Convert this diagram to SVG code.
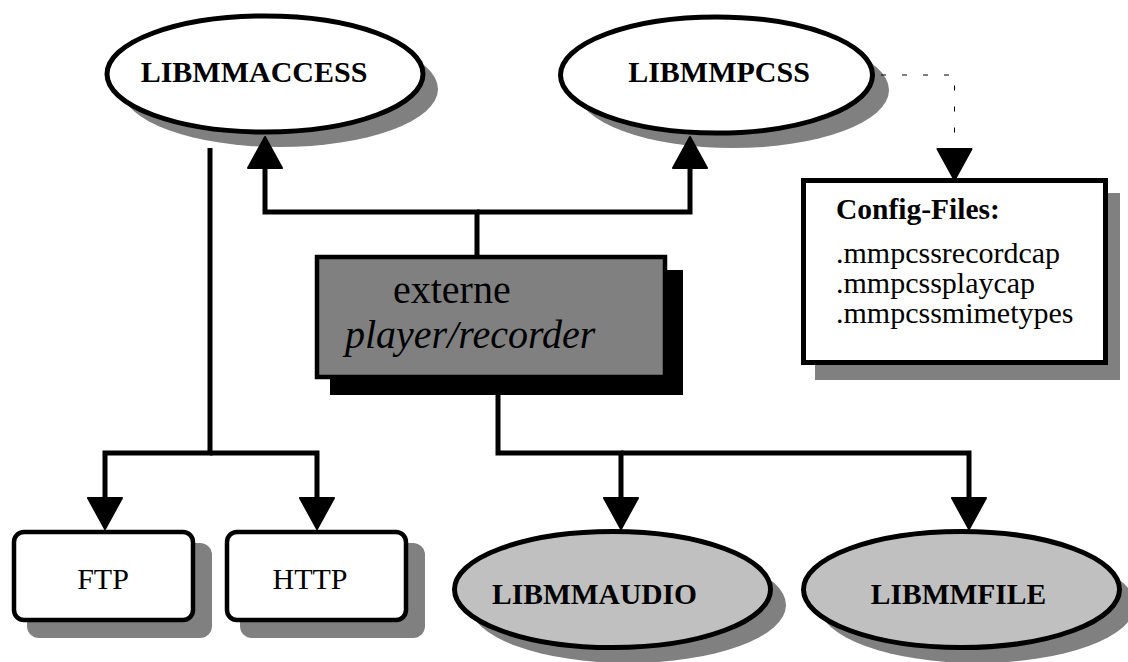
<svg xmlns="http://www.w3.org/2000/svg" width="1128" height="662" viewBox="0 0 1128 662">
  <style>
    .lbl { font-family: "Liberation Serif", "Times New Roman", serif; fill: #000; }
    .bold { font-weight: bold; }
    .shadow { fill: #808080; stroke: none; }
    .lib { fill: #ffffff; stroke: #000; stroke-width: 5; }
    .libgrey { fill: #c0c0c0; stroke: #000; stroke-width: 5; }
    .box { fill: #ffffff; stroke: #000; stroke-width: 4.5; }
    .wire { fill: none; stroke: #000; stroke-width: 5; stroke-linejoin: miter; stroke-linecap: butt; }
    .dash { fill: none; stroke: #000; stroke-width: 1; stroke-dasharray: 5 16; }
  </style>
  <defs>
    <marker id="head" markerUnits="userSpaceOnUse" viewBox="0 0 34 36" markerWidth="34" markerHeight="36" refX="1" refY="18" orient="auto" overflow="visible">
      <path d="M1,1 L32,18 L1,35 Z" fill="#000" stroke="#000" stroke-width="2" stroke-linejoin="round"/>
    </marker>
  </defs>

  <rect width="1128" height="662" fill="#ffffff"/>

  <!-- library and box nodes -->
  <g id="libmmaccess">
    <ellipse class="shadow" cx="280" cy="89" rx="158" ry="58"/>
    <ellipse class="lib" cx="265" cy="74" rx="158" ry="58"/>
    <text class="lbl bold" x="254" y="82" font-size="30" text-anchor="middle">LIBMMACCESS</text>
  </g>

  <g id="libmmpcss">
    <ellipse class="shadow" cx="733" cy="90" rx="156" ry="58"/>
    <ellipse class="lib" cx="716.5" cy="75" rx="156" ry="58"/>
    <text class="lbl bold" x="719" y="82" font-size="30" text-anchor="middle">LIBMMPCSS</text>
  </g>

  <g id="config-files">
    <rect class="shadow" x="815" y="193" width="305" height="187"/>
    <rect x="803.5" y="180.5" width="302" height="182" fill="#ffffff" stroke="#000" stroke-width="5"/>
    <text class="lbl bold" x="836" y="219" font-size="29.5">Config-Files:</text>
    <text class="lbl" x="836" y="263" font-size="30">.mmpcssrecordcap</text>
    <text class="lbl" x="836" y="293" font-size="30">.mmpcssplaycap</text>
    <text class="lbl" x="836" y="323" font-size="30">.mmpcssmimetypes</text>
  </g>

  <g id="player-recorder">
    <rect x="330" y="270" width="353" height="125" fill="#000"/>
    <rect x="317" y="257" width="348" height="120" fill="#808080" stroke="#000" stroke-width="4.5"/>
    <text class="lbl" x="393" y="303" font-size="40">externe</text>
    <text class="lbl" x="345" y="348" font-size="40" font-style="italic">player/recorder</text>
  </g>

  <g id="ftp">
    <rect class="shadow" x="27" y="543" width="185" height="95" rx="12"/>
    <rect class="box" x="14" y="532" width="179" height="88" rx="10"/>
    <text class="lbl" x="103" y="589" font-size="30" text-anchor="middle">FTP</text>
  </g>

  <g id="http">
    <rect class="shadow" x="240" y="543" width="185" height="95" rx="12"/>
    <rect class="box" x="227" y="532" width="179" height="88" rx="10"/>
    <text class="lbl" x="310" y="589" font-size="30" text-anchor="middle">HTTP</text>
  </g>

  <g id="libmmaudio">
    <ellipse class="shadow" cx="628" cy="605" rx="158" ry="58"/>
    <ellipse class="libgrey" cx="612.5" cy="589.5" rx="158" ry="58"/>
    <text class="lbl bold" x="594.5" y="604" font-size="29.5" text-anchor="middle">LIBMMAUDIO</text>
  </g>

  <g id="libmmfile">
    <ellipse class="shadow" cx="977" cy="605" rx="158" ry="58"/>
    <ellipse class="libgrey" cx="961.5" cy="589.5" rx="158" ry="58"/>
    <text class="lbl bold" x="958.5" y="604" font-size="29.5" text-anchor="middle">LIBMMFILE</text>
  </g>

  <!-- connectors -->
  <g id="connectors">
    <path class="wire" d="M477,257 V212 H265 V168" marker-end="url(#head)"/>
    <path class="wire" d="M477,212 H690 V168" marker-end="url(#head)"/>
    <path class="wire" d="M498,377 V453 H621 V498" marker-end="url(#head)"/>
    <path class="wire" d="M621,453 H969 V498" marker-end="url(#head)"/>
    <path class="wire" d="M210,148 V453 H105 V498" marker-end="url(#head)"/>
    <path class="wire" d="M210,453 H317 V498" marker-end="url(#head)"/>
    <path class="dash" d="M881,75 H954.5 V149" marker-end="url(#head)"/>
  </g>
</svg>
